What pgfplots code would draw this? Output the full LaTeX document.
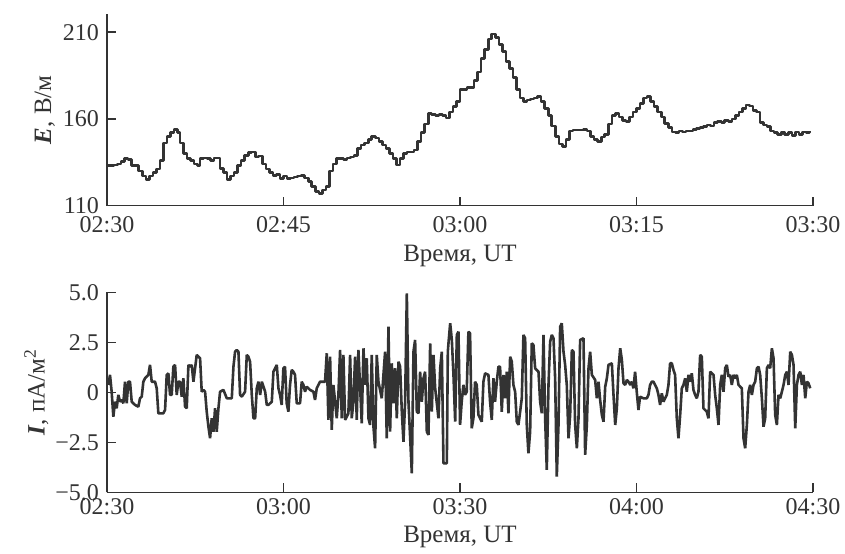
\documentclass[border=0pt]{standalone}
\usepackage{fontspec}
\setmainfont{Liberation Serif}
\usepackage{pgfplots}
\pgfplotsset{compat=1.18}
\definecolor{ink}{HTML}{333333}
\begin{document}
\begin{tikzpicture}
\useasboundingbox (0pt,0pt) rectangle (422.5pt,276.5pt);
\pgfplotsset{
 myax/.style={
  scale only axis, width=353pt,
  axis x line=bottom, axis y line=left,
  axis line style={-, line width=0.75pt, color=ink},
  tick style={line width=0.75pt, color=ink},
  major tick length=4.5pt,
  tick align=inside,
  enlargelimits=false,
  xmin=0,
  tick label style={font=\fontsize{12}{14}\selectfont, color=ink},
  label style={font=\fontsize{12.5}{14}\selectfont, color=ink},
 }
}
\begin{axis}[myax, at={(53.5pt,173.7pt)}, anchor=south west,
  height=95.8pt, xmax=60, ymin=110, ymax=220.5,
  xtick={0,15,30,45,60}, xticklabels={02:30,02:45,03:00,03:15,03:30},
  ytick={110,160,210}, yticklabels={110,160,210},
  xlabel={Время, UT},
  ylabel={\textbf{\textit{E}}, В/м},
  xlabel style={at={(axis description cs:0.5,-0.262)}, anchor=center},
  ylabel style={at={(axis description cs:-0.088,0.5)}, anchor=center},
  xticklabel style={yshift=-2pt},
  yticklabel style={xshift=-0.5pt},
]
\addplot[const plot, color=ink, line width=1.3pt, line join=bevel] coordinates {
(0.0,133)(0.3,133)(0.6,133.5)(0.9,134)(1.2,135.5)(1.5,137)(1.8,136.5)(2.1,133)(2.4,133)(2.7,130)
(3.0,127)(3.3,125)(3.6,127)(3.9,129)(4.2,131)(4.5,136)(4.8,146)(5.1,150)(5.4,152)(5.7,154)
(6.0,152)(6.2,146)(6.5,140)(6.8,137)(7.1,136)(7.4,134)(7.7,133)(7.9,137)(8.2,137.5)(8.5,137)
(8.8,136)(9.1,137.5)(9.4,137.5)(9.6,131.5)(9.9,129)(10.2,125)(10.5,127)(10.8,129)(11.1,133)(11.4,136)
(11.7,139)(12.0,140.5)(12.3,141)(12.6,138)(12.9,138.5)(13.2,134)(13.5,131)(13.8,129)(14.1,127.5)(14.4,128)
(14.7,125.5)(15.0,127)(15.3,125.5)(15.6,126)(15.9,126.5)(16.2,127)(16.5,127.5)(16.8,126)(17.1,124)(17.4,121)
(17.7,118)(18.0,117)(18.3,119)(18.6,121)(18.9,130)(19.2,134)(19.5,137)(19.8,137)(20.1,136.5)(20.4,137.5)
(20.7,138)(21.0,139)(21.3,143)(21.6,145)(21.9,146)(22.2,148)(22.5,150)(22.8,149)(23.1,147)(23.4,145)
(23.7,143)(24.0,140)(24.3,137)(24.6,133.5)(24.9,137)(25.2,140)(25.5,141)(25.8,141)(26.1,142)(26.4,147)
(26.7,152)(27.0,157)(27.3,163)(27.6,162.5)(27.9,162)(28.2,162.5)(28.5,162)(28.8,160.5)(29.1,164)(29.4,167)
(29.7,170)(30.0,177)(30.3,177)(30.6,178)(30.9,178)(31.2,182)(31.5,187)(31.8,195)(32.1,200)(32.4,206)
(32.7,209)(33.0,207)(33.3,203)(33.6,199)(33.9,193)(34.2,189)(34.5,184)(34.8,177)(35.1,172)(35.4,170)
(35.7,171)(36.0,171.5)(36.3,172)(36.6,173)(36.9,170)(37.2,166)(37.5,162)(37.8,156)(38.1,150)(38.4,145.5)
(38.7,144)(39.0,148)(39.3,153)(39.6,153.5)(39.9,153.5)(40.2,153.5)(40.5,154)(40.8,153)(41.1,150)(41.4,148)
(41.7,147)(42.0,149.5)(42.3,151)(42.6,157)(42.9,162)(43.2,163)(43.5,161)(43.8,159)(44.1,158.5)(44.4,161)
(44.7,164)(45.0,166)(45.3,169)(45.6,172)(45.9,173)(46.2,170)(46.5,167)(46.8,164)(47.1,161)(47.4,157.5)
(47.7,155)(48.0,152.5)(48.3,152)(48.6,153)(48.9,152.5)(49.2,153)(49.5,153)(49.8,154)(50.1,154.5)(50.4,155)
(50.7,155.5)(51.0,156.5)(51.3,156)(51.6,158)(51.9,158.5)(52.2,158)(52.5,159)(52.8,158.5)(53.1,160)(53.4,162)
(53.7,164)(54.0,166)(54.3,168)(54.6,167.5)(54.9,165)(55.2,164)(55.5,158)(55.8,156.5)(56.1,155.5)(56.4,153)
(56.7,152)(57.0,151)(57.3,152.5)(57.6,151)(57.9,152)(58.2,150.5)(58.5,152.5)(58.8,151)(59.1,152.5)(59.4,152)
(59.7,153)
};
\end{axis}
\begin{axis}[myax, at={(53.5pt,30.35pt)}, anchor=south west,
  height=100pt, xmax=120, ymin=-5, ymax=5,
  xtick={0,30,60,90,120}, xticklabels={02:30,03:00,03:30,04:00,04:30},
  ytick={-5,-2.5,0,2.5,5}, yticklabels={−5.0,−2.5,0,2.5,5.0},
  xlabel={Время, UT},
  ylabel={\textbf{\textit{I}}, пА/м\textsuperscript{2}},
  xlabel style={at={(axis description cs:0.5,-0.225)}, anchor=center},
  ylabel style={at={(axis description cs:-0.10,0.5)}, anchor=center},
  xticklabel style={yshift=0.5pt},
  yticklabel style={xshift=-0.5pt},
]
\addplot[color=ink, line width=1.3pt, line join=bevel] coordinates {
(0.23,0.37)(0.51,0.87)(0.79,0.03)(1.08,-1.22)(1.36,-0.47)(1.64,-0.8)(1.93,-0.13)(2.21,-0.47)(2.50,-0.38)(2.78,-0.55)
(3.06,0.53)(3.35,-0.55)(3.63,0.53)(3.91,0.53)(4.20,-0.47)(4.76,-0.63)(5.33,-0.72)(5.61,-0.3)(5.90,-0.22)(6.18,0.53)
(6.46,0.7)(7.03,0.87)(7.31,1.37)(7.60,0.53)(8.17,0.53)(8.45,0.2)(8.73,-1.05)(9.58,-1.05)(9.87,-0.88)(10.15,0.87)
(10.43,0.95)(10.72,-0.13)(11.0,-0.13)(11.28,1.28)(11.57,1.37)(11.85,-0.13)(12.13,0.53)(12.42,0.53)(12.70,-0.22)(12.98,0.7)
(13.27,-0.72)(13.55,-0.8)(13.84,1.37)(14.12,1.28)(14.40,1.37)(14.69,0.53)(15.25,1.87)(15.82,1.7)(16.10,0.03)(16.39,0.12)
(16.67,0.03)(16.95,-0.97)(17.24,-1.72)(17.52,-2.3)(17.80,-1.3)(18.09,-1.97)(18.37,-0.8)(18.65,-1.97)(18.94,-0.8)(19.22,0.03)
(19.79,0.12)(20.36,-0.3)(21.21,-0.3)(21.49,1.28)(21.77,2.03)(22.06,2.12)(22.34,2.03)(22.62,-0.13)(22.91,-0.22)(23.47,0.03)
(23.76,1.87)(24.04,1.78)(24.32,1.53)(24.61,-0.13)(24.89,-1.3)(25.18,-1.3)(25.46,0.2)(25.74,0.53)(26.03,-0.13)(26.31,0.53)
(26.88,0.03)(27.16,-0.63)(27.44,-0.63)(28.01,-0.47)(28.29,1.03)(28.58,1.2)(28.86,1.37)(29.14,0.2)
(29.41,-0.13)(29.69,-0.63)(29.98,1.2)(30.26,1.28)(30.54,-0.55)(30.83,-0.97)(31.11,0.37)(31.39,1.12)(31.68,1.03)(31.96,0.87)
(32.25,-0.55)(32.81,-0.55)(33.10,0.53)(33.38,0.37)(33.66,0.03)(33.95,0.28)(34.51,0.12)(35.08,0.03)(35.36,-0.38)(35.65,0.2)
(36.21,0.53)(37.06,0.53)(37.35,1.95)(37.63,-1.38)(37.92,1.78)(38.20,-1.88)(38.48,0.37)(38.77,-0.47)(39.05,-1.3)(39.33,-0.13)
(39.62,2.12)(39.90,-1.3)(40.18,1.87)(40.47,-1.38)(41.03,-1.05)(41.32,1.87)(41.60,-1.3)(41.88,-0.47)(42.17,1.78)(42.45,-1.38)
(42.73,2.12)(43.30,-1.55)(43.59,2.2)(43.87,0.37)(44.15,1.7)(44.44,-1.3)(44.72,-1.63)(45.00,1.87)(45.29,-1.72)(45.57,-2.8)
(45.85,1.87)(46.14,0.53)(46.70,-0.3)(47.27,2.03)(47.55,-2.3)(47.84,3.28)(48.12,-1.97)(48.40,1.45)(48.69,-0.55)(48.97,1.2)
(49.26,-1.3)(49.54,1.53)(49.82,1.28)(50.11,-0.97)(50.39,-2.47)(50.67,-0.47)(50.96,4.95)(51.24,-0.47)(51.81,-4.05)(52.09,2.03)
(52.37,2.62)(52.66,-0.97)(52.94,-1.05)(53.22,1.03)(53.51,-0.47)(53.79,0.7)(54.07,1.03)(54.36,-1.97)(54.64,-2.13)(54.93,2.45)
(55.21,-0.97)(55.49,1.87)(55.78,0.2)(56.34,-1.3)(56.63,1.2)(56.91,2.03)(57.19,-3.55)(57.76,-3.55)(57.93,2.03)(58.04,2.45)
(58.33,3.45)(58.61,2.62)(58.89,0.87)(59.18,-1.47)(59.46,2.87)(59.74,3.03)
(60.01,-1.63)(60.29,-0.47)(60.58,0.37)(60.86,-0.13)(61.14,0.03)(61.43,3.03)(61.71,2.95)(61.99,-1.8)(62.28,-1.3)(62.56,0.53)
(62.85,0.37)(63.13,-1.13)(63.70,-1.47)(63.98,0.53)(64.26,0.95)(64.83,0.87)(65.11,-0.47)(65.40,-1.38)(65.68,0.7)(65.96,-0.47)
(66.25,0.53)(66.53,1.28)(66.81,1.28)(67.10,-0.97)(67.38,0.87)(67.67,-0.3)(67.95,1.03)(68.23,-1.05)(68.52,1.78)(68.80,1.53)
(69.08,0.37)(69.37,0.03)(69.65,-1.47)(69.93,-1.63)(70.22,-0.97)(70.50,-0.3)(70.78,2.87)(71.07,2.7)(71.35,-1.63)(71.63,-3.05)
(71.92,-1.97)(72.20,2.45)(72.48,2.37)(72.77,1.2)(73.34,1.03)(73.62,-0.47)(73.90,-1.05)(74.19,2.87)(74.47,-1.3)(74.75,-3.88)
(75.04,0.37)(75.32,2.53)(75.60,2.87)(75.89,2.7)(76.17,0.7)(76.45,-4.22)(76.74,-1.63)(77.02,3.28)(77.30,3.45)(77.59,2.03)
(77.87,1.37)(78.15,0.37)(78.44,-2.3)(78.72,-1.13)(79.01,2.12)(79.29,2.03)(79.57,-1.63)(79.86,-2.8)(80.14,-1.3)(80.42,2.62)
(80.99,2.7)(81.27,-3.13)(81.56,-1.63)(81.84,1.2)(82.12,2.03)(82.41,0.87)(82.97,0.62)(83.26,-0.3)(83.54,0.53)(83.82,-0.38)
(84.11,-1.13)(84.39,-1.47)(84.68,0.28)(84.96,0.7)(85.24,1.37)(85.81,1.45)(86.09,-0.13)(86.38,-1.63)(86.66,-0.8)(86.94,1.2)
(87.23,2.2)(87.51,1.62)(87.79,0.45)(88.08,0.37)(88.36,0.62)(88.64,0.53)(88.93,0.37)(89.21,0.53)
(89.48,0.2)(89.76,1.03)(90.04,0.03)(90.33,-0.88)(90.61,-0.22)(91.18,-0.3)(91.75,-0.3)(92.03,-0.13)(92.31,0.37)(92.60,0.53)
(92.88,0.53)(93.16,0.37)(93.45,0.2)(93.73,-0.13)(94.01,-0.63)(94.30,-0.05)(94.58,-0.47)(95.15,-0.13)(95.43,0.37)(95.71,1.45)
(96.0,1.45)(96.28,1.12)(96.56,0.87)(96.85,-1.3)(97.13,-2.3)(97.42,-1.13)(97.70,0.2)(97.98,0.37)(98.27,0.7)(98.55,0.03)
(98.83,0.87)(99.12,0.53)(99.40,0.95)(99.68,0.12)(99.97,-0.13)(100.25,-0.3)(100.53,0.03)(100.82,1.87)(101.10,1.78)(101.38,-0.8)
(101.95,-0.97)(102.23,-1.3)(102.52,1.03)(103.09,0.87)(103.37,-0.13)(103.65,-0.8)(103.94,-1.63)(104.22,0.37)(104.50,0.87)(104.79,0.03)
(105.07,1.2)(105.35,1.37)(105.64,0.78)(105.92,0.87)(106.20,0.37)(106.49,0.87)(106.77,0.7)(107.05,0.87)(107.34,0.37)(107.90,0.2)
(108.19,-2.3)(108.47,-2.8)(108.76,-1.63)(109.04,0.03)(109.32,0.37)(109.61,-0.13)(109.89,0.37)(110.17,0.53)(110.46,1.2)(110.74,1.28)
(111.02,0.87)(111.31,-0.3)(111.59,-1.72)(111.87,-1.3)(112.16,1.2)(112.44,1.37)(112.72,1.2)(113.01,2.2)(113.29,1.7)(113.57,-1.13)
(113.86,-1.63)(114.14,-0.13)(114.43,-0.3)(114.71,0.03)(114.99,0.37)(115.28,0.87)(115.56,1.03)(115.84,0.37)(116.13,2.03)(116.41,1.87)
(116.69,1.37)(116.98,-1.8)(117.26,0.37)(117.54,0.87)(117.83,1.03)(118.11,0.37)(118.39,0.87)(118.68,-0.3)(118.96,0.53)(119.24,0.45)
(119.53,0.2)
};
\end{axis}
\end{tikzpicture}
\end{document}
